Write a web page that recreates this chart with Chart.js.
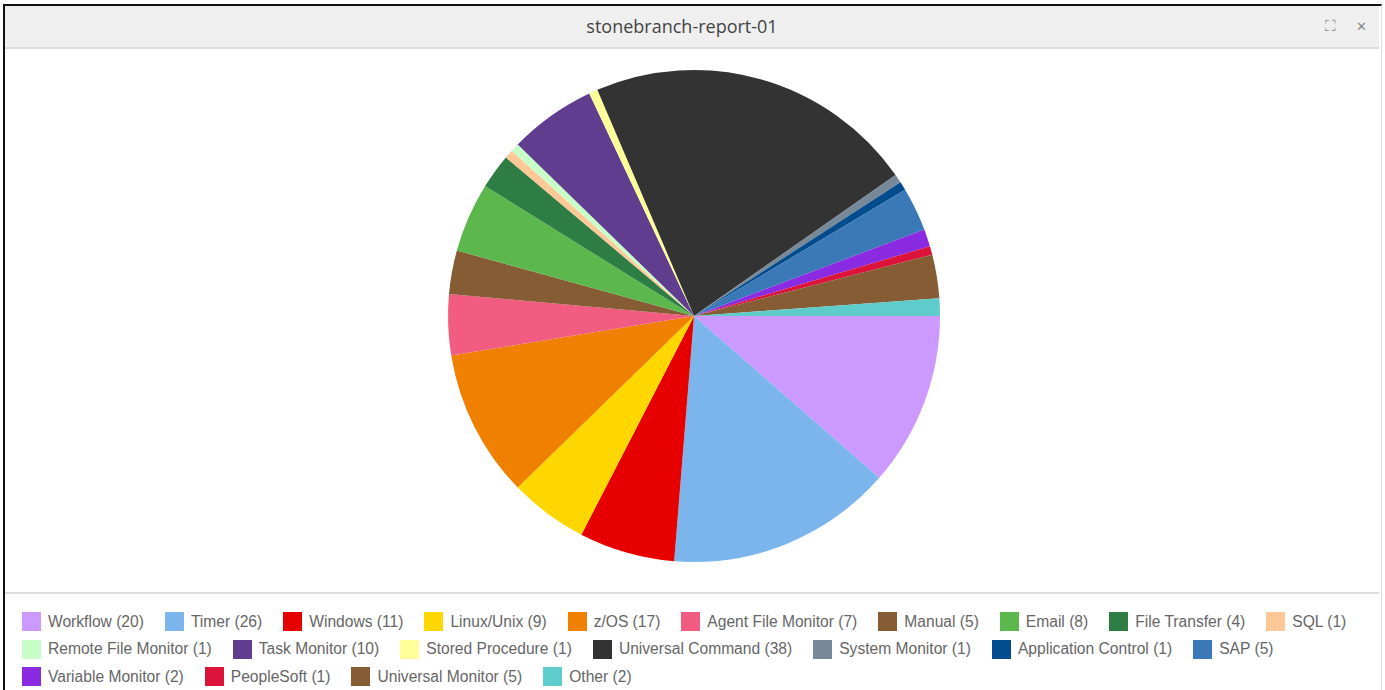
<!DOCTYPE html>
<html>
<head>
<meta charset="utf-8">
<script src="https://cdn.jsdelivr.net/npm/chart.js@4"></script>
<style>
  html, body { margin: 0; padding: 0; background: #fff; width: 1385px; height: 690px; overflow: hidden; }
  #panel { position: absolute; left: 3px; top: 4px; width: 1376px; height: 700px; border-top: 2px solid #111; border-left: 2px solid #111; border-right: 1px solid #ddd; background: #fff; }
  #titlebar { position: absolute; left: 5px; top: 6px; width: 1374px; height: 41px; background: #efefef; border-bottom: 2px solid #dcdcdc; }
  #title { position: absolute; left: -10px; width: 100%; top: 0; line-height: 41px; text-align: center; font-family: "Open Sans", sans-serif; font-size: 18px; color: #444; }
  #icons { position: absolute; right: 12px; top: 0; line-height: 41px; font-family: "DejaVu Sans", sans-serif; color: #888; font-size: 13px; }
  #icons span { display: inline-block; margin-left: 20px; }
  #wrap { position: absolute; left: 5px; top: 49px; width: 1374px; height: 544px; }
  #sep { position: absolute; left: 5px; top: 592px; width: 1374px; height: 2px; background: #dedede; }
  #legend { position: absolute; left: 22px; top: 607.75px; width: 1350px; display: flex; flex-wrap: wrap; font-family: "Liberation Sans", Arial, sans-serif; font-size: 15.6px; color: #666; }
  .item { display: flex; align-items: center; height: 27.5px; margin-right: 21px; white-space: nowrap; }
  .box { width: 19px; height: 19px; margin-right: 7px; box-sizing: border-box; }
</style>
</head>
<body>
<div id="panel"></div>
<div id="titlebar">
  <div id="title">stonebranch-report-01</div>
  <div id="icons"><span style="font-size:15px;">⛶</span><span>✕</span></div>
</div>
<div id="wrap"><canvas id="c"></canvas></div>
<div id="sep"></div>
<div id="legend"></div>
<script>
const categories = ["Workflow","Timer","Windows","Linux/Unix","z/OS","Agent File Monitor","Manual","Email","File Transfer","SQL","Remote File Monitor","Task Monitor","Stored Procedure","Universal Command","System Monitor","Application Control","SAP","Variable Monitor","PeopleSoft","Universal Monitor","Other"];
const counts = [20,26,11,9,17,7,5,8,4,1,1,10,1,38,1,1,5,2,1,5,2];
const colors = ["#cc99ff","#7cb5ec","#e60000","#ffd700","#f08000","#f25c80","#855c33","#5cb84c","#2e7d44","#ffc896","#c8ffc8","#613d90","#ffff99","#333333","#778899","#004c8c","#3a78b8","#8a2be2","#dc143c","#855c33","#5fcccc"];

const labels = categories.map((c, i) => c + " (" + counts[i] + ")");

const leg = document.getElementById("legend");
labels.forEach((t, i) => {
  const it = document.createElement("div");
  it.className = "item";
  const b = document.createElement("div");
  b.className = "box";
  b.style.background = colors[i];
  const s = document.createElement("span");
  s.textContent = t;
  it.appendChild(b); it.appendChild(s);
  leg.appendChild(it);
});

new Chart(document.getElementById("c"), {
  type: "pie",
  data: {
    labels: labels,
    datasets: [{ data: counts, backgroundColor: colors, borderWidth: 0, hoverOffset: 0 }]
  },
  options: {
    responsive: true,
    maintainAspectRatio: false,
    animation: false,
    rotation: 90,
    layout: { padding: { left: 4, right: 0, top: 21, bottom: 31 } },
    plugins: { legend: { display: false }, tooltip: { enabled: false } }
  }
});
</script>
</body>
</html>
